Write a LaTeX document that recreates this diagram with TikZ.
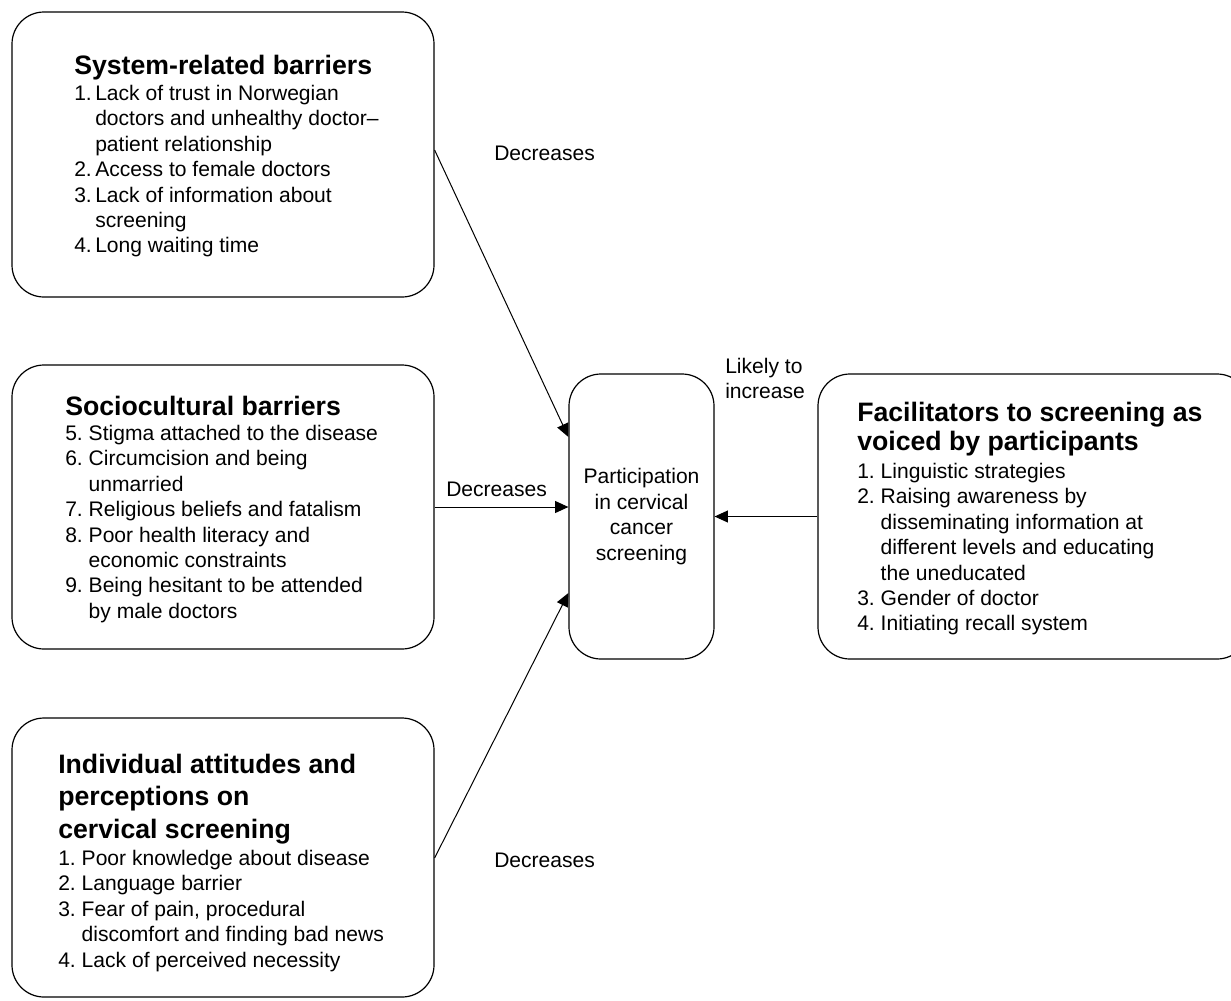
\documentclass[tikz,border=0pt]{standalone}
\usepackage{fontspec}
\setmainfont{Liberation Sans}
\usetikzlibrary{arrows.meta, positioning, calc}

\newcommand{\nb}[2][17.6pt]{\makebox[#1][l]{#2}}

\tikzset{
  barbox/.style={draw, line width=0.9pt, rounded corners=24pt, inner sep=0pt},
  headtxt/.style={font=\fontsize{20}{23.5}\selectfont\bfseries, align=left, inner sep=0pt, anchor=north west},
  listtxt/.style={font=\fontsize{15.8}{19.1}\selectfont, align=left, inner sep=0pt, anchor=north west},
  lbl/.style={font=\fontsize{15.8}{19.1}\selectfont, align=left, inner sep=0pt, anchor=north west},
  arr/.style={line width=0.75pt, -{Triangle[length=10pt,width=9pt]}}
}

\begin{document}
\begin{tikzpicture}[x=0.75pt, y=-0.75pt]
  \useasboundingbox (0,0) rectangle (1231,1000);

  % Boxes
  \node[barbox, minimum width=316.5pt, minimum height=213.75pt] (sys) at (223,154.5) {};
  \node[barbox, minimum width=316.5pt, minimum height=213pt] (soc) at (223,507) {};
  \node[barbox, minimum width=316.5pt, minimum height=209.25pt] (ind) at (223,857.5) {};
  \node[barbox, minimum width=108.75pt, minimum height=213.75pt, align=center,
        font=\fontsize{15.8}{19.3}\selectfont] (part) at (641.5,516.5)
        {Participation\\in cervical\\cancer\\screening};
  \node[barbox, minimum width=323.25pt, minimum height=213.75pt] (fac) at (1033.5,516.5) {};

  % System-related barriers
  \node[headtxt, anchor=base west] (sysHead) at (74,74) {System-related barriers};
  \node[listtxt] (sysList) at (74,84.6) {%
    \nb[15.75pt]{1.}Lack of trust in Norwegian\\
    \nb[15.75pt]{}doctors and unhealthy doctor–\\
    \nb[15.75pt]{}patient relationship\\
    \nb[15.75pt]{2.}Access to female doctors\\
    \nb[15.75pt]{3.}Lack of information about\\
    \nb[15.75pt]{}screening\\
    \nb[15.75pt]{4.}Long waiting time};

  % Sociocultural barriers
  \node[headtxt, anchor=base west] (socHead) at (65,415) {Sociocultural barriers};
  \node[listtxt] (socList) at (65,424.6) {%
    \nb{5.}Stigma attached to the disease\\
    \nb{6.}Circumcision and being\\
    \nb{}unmarried\\
    \nb{7.}Religious beliefs and fatalism\\
    \nb{8.}Poor health literacy and\\
    \nb{}economic constraints\\
    \nb{9.}Being hesitant to be attended\\
    \nb{}by male doctors};

  % Individual attitudes
  \node[headtxt, font=\fontsize{20}{24.5}\selectfont\bfseries] (indHead) at (58,753.6)
    {Individual attitudes and\\perceptions on\\cervical screening};
  \node[listtxt] (indList) at (58,849.6) {%
    \nb{1.}Poor knowledge about disease\\
    \nb{2.}Language barrier\\
    \nb{3.}Fear of pain, procedural\\
    \nb{}discomfort and finding bad news\\
    \nb{4.}Lack of perceived necessity};

  % Facilitators
  \node[headtxt, font=\fontsize{20}{22}\selectfont\bfseries] (facHead) at (857,401.6)
    {Facilitators to screening as\\voiced by participants};
  \node[listtxt] (facList) at (857,462.6) {%
    \nb{1.}Linguistic strategies\\
    \nb{2.}Raising awareness by\\
    \nb{}disseminating information at\\
    \nb{}different levels and educating\\
    \nb{}the uneducated\\
    \nb{3.}Gender of doctor\\
    \nb{4.}Initiating recall system};

  % Arrows
  \draw[arr] ($(sys.east)+(0,-4.5)$) -- ($(part.west)+(0,-79.5)$);
  \draw[arr] (soc.east) -- (soc.east -| part.west);
  \draw[arr] ($(ind.east)+(0,0.5)$) -- ($(part.west)+(0,76.5)$);
  \draw[arr] (fac.west) -- (part.east);

  % Labels
  \node[lbl, anchor=base west] (decA) at (494,160) {Decreases};
  \node[lbl, anchor=base west] (decB) at (446,496) {Decreases};
  \node[lbl, anchor=base west] (decC) at (494,867) {Decreases};
  \node[lbl] (likely) at (725,357.6) {Likely to\\increase};
\end{tikzpicture}
\end{document}
